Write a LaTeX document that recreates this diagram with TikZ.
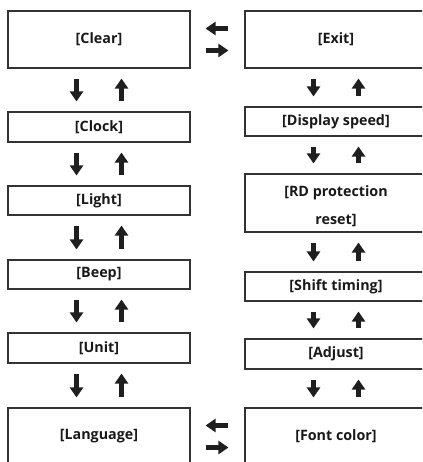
\documentclass[tikz,border=0pt]{standalone}
\usepackage{fontspec}
\setmainfont{Open Sans}
\usetikzlibrary{arrows.meta}
\begin{document}
\begin{tikzpicture}[x=1pt,y=-1pt,
  box/.style={draw=black!80,line width=1.1pt,inner sep=0pt,minimum width=182pt,
    font=\fontsize{14.3}{28}\selectfont\bfseries,text=black!90,align=center},
  bigarrow/.style={draw=black!88,line width=5pt,
    -{Triangle[width=13pt,length=10pt]}}]
\path[use as bounding box,clip] (0,0) rectangle (422,462);
% left column
\node[box,minimum height=57pt] (clear) at (99,39.5) {[Clear]};
\node[box,minimum height=30pt] (clock) at (99,127) {[Clock]};
\node[box,minimum height=29pt] (light) at (99,200.5) {[Light]};
\node[box,minimum height=29pt] (beep) at (99,274.5) {[Beep]};
\node[box,minimum height=30pt] (unit) at (99,348) {[Unit]};
\node[box,minimum height=57pt] (lang) at (99,436.5) {[Language]};
% right column
\node[box,minimum height=57pt] (exit) at (336,39.5) {[Exit]};
\node[box,minimum height=29pt] (disp) at (336,121.5) {[Display speed]};
\node[box,minimum height=58pt,text height=42pt,text depth=0pt] (rd) at (336,203) {[RD protection\\reset]};
\node[box,minimum height=29pt] (shift) at (336,286.5) {[Shift timing]};
\node[box,minimum height=30pt] (adj) at (336,354) {[Adjust]};
\node[box,minimum height=57pt] (font) at (336,436.5) {[Font color]};
% vertical arrow pairs
\foreach \a/\b in {clear/clock,clock/light,light/beep,beep/unit,unit/lang,
                   exit/disp,disp/rd,rd/shift,shift/adj,adj/font}{
  \draw[bigarrow] ([xshift=-22.5pt,yshift=-10pt]\a.south) -- ([xshift=-22.5pt,yshift=10pt]\b.north);
  \draw[bigarrow] ([xshift=22.5pt,yshift=10pt]\b.north) -- ([xshift=22.5pt,yshift=-10pt]\a.south);
}
% horizontal arrow pairs
\foreach \l/\r in {clear/exit,lang/font}{
  \draw[bigarrow] ([xshift=-16pt,yshift=11pt]\r.west) -- ([xshift=15pt,yshift=11pt]\l.east);
  \draw[bigarrow] ([xshift=15pt,yshift=-11pt]\l.east) -- ([xshift=-16pt,yshift=-11pt]\r.west);
}
\end{tikzpicture}
\end{document}
